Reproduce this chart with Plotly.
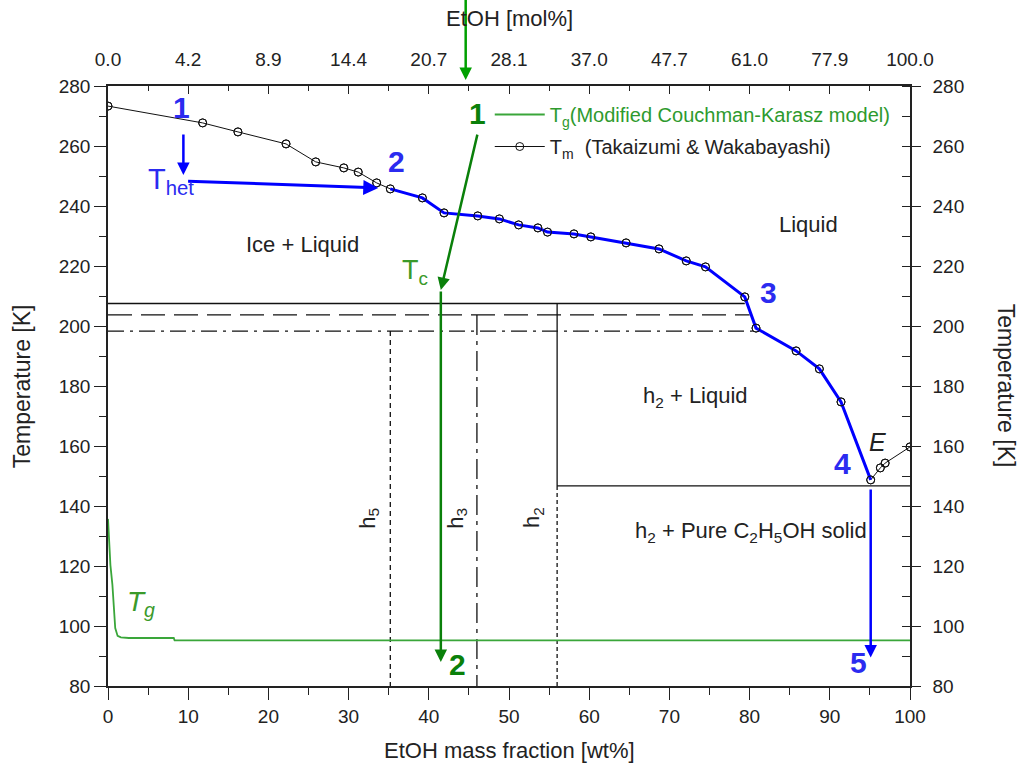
import plotly.graph_objects as go

# ---------------- data ----------------
# Tm liquidus (Takaizumi & Wakabayashi)
tm_x = [0, 11.8, 16.2, 22.2, 25.9, 29.4, 31.2, 33.5, 35.2, 39.2, 41.9, 46.1, 48.8, 51.2,
        53.6, 54.8, 58.1, 60.2, 64.6, 68.7, 72.1, 74.5, 79.4, 80.8, 85.8, 88.7, 91.4,
        95.1, 96.3, 96.9, 100]
tm_T = [273.3, 267.7, 264.7, 260.7, 254.7, 252.7, 251.3, 247.7, 245.7, 242.7, 237.7,
        236.7, 235.7, 233.7, 232.7, 231.3, 230.7, 229.7, 227.7, 225.7, 221.7, 219.7,
        209.7, 199.3, 191.7, 185.7, 174.7, 148.7, 152.7, 154.3, 159.7]

# Tg (Modified Couchman-Karasz model)
tg_x = [0, 0.1, 0.3, 0.55, 0.75, 0.9, 1.2, 1.6, 2.6, 8.2, 8.3, 100]
tg_T = [135.7, 128.7, 120.3, 113.7, 106.3, 99.3, 96.7, 96.2, 96.0, 96.0, 95.2, 95.2]

# top axis (mol%) tick labels at wt% positions
wt_ticks = [0, 10, 20, 30, 40, 50, 60, 70, 80, 90, 100]
mol_labels = ["0.0", "4.2", "8.9", "14.4", "20.7", "28.1", "37.0", "47.7", "61.0", "77.9", "100.0"]

# hydrate levels / boundaries
h_solid_x, h_solid_T = [0, 79.4], [207.5, 207.5]
h_dash_x, h_dash_T = [0, 80.0], [203.7, 203.7]
h_dashdot_x, h_dashdot_T = [0, 80.4], [198.3, 198.3]
eut_x, eut_T = [56.0, 100], [146.7, 146.7]
h5_x, h5_T = [35.2, 35.2], [198.3, 80]
h3_x, h3_T = [46.0, 46.0], [203.7, 80]
h2_solid_x, h2_solid_T = [56.0, 56.0], [207.5, 146.7]
h2_dot_x, h2_dot_T = [56.0, 56.0], [146.7, 80]

# blue path (slow cooling) follows liquidus from point 2 to point 4
blue_start, blue_end = 8, 28

# arrows: (x_tail, T_tail, x_head, T_head)
arr_blue_drop = [9.4, 264.3, 9.4, 250.3]
arr_blue_het = [9.8, 248.3, 33.7, 246.0]
arr_blue_down = [95.1, 146.0, 95.1, 89.5]
arr_green_diag = [46.1, 264.3, 41.5, 212.0]
arr_green_down = [41.5, 212.0, 41.5, 88.0]
arr_green_top_x = 44.6

BLUE = "#0000ff"
LBLUE = "#2b2bf0"
GREEN_D = "#0a800a"
GREEN_L = "#3aa63a"
FONT = "Liberation Sans, Arial, sans-serif"

fig = go.Figure()

def line(x, y, dash="solid", width=1.3, color="#111"):
    fig.add_trace(go.Scatter(x=x, y=y, mode="lines", showlegend=False, hoverinfo="skip",
                             line=dict(color=color, width=width, dash=dash)))

line(h_solid_x, h_solid_T)
line(h_dash_x, h_dash_T, dash="24px,9px")
line(h_dashdot_x, h_dashdot_T, dash="16px,6px,3px,6px")
line(eut_x, eut_T)
line(h5_x, h5_T, dash="5px,4px")
line(h3_x, h3_T, dash="20px,6px,4px,6px")
line(h2_solid_x, h2_solid_T)
line(h2_dot_x, h2_dot_T, dash="4px,3px")

# Tg
fig.add_trace(go.Scatter(x=tg_x, y=tg_T, mode="lines", legendgroup="g1",
                         name="<span style='color:#2e9a2e'>T<sub>g</sub>(Modified Couchman-Karasz model)</span>",
                         line=dict(color=GREEN_L, width=1.8)))
# Tm
fig.add_trace(go.Scatter(x=tm_x, y=tm_T, mode="lines+markers", legendgroup="g2",
                         name="T<sub>m</sub>  (Takaizumi & Wakabayashi)",
                         line=dict(color="#111", width=1),
                         marker=dict(symbol="circle-open", size=8, color="#111", line=dict(width=1))))
# blue path
fig.add_trace(go.Scatter(x=tm_x[blue_start:blue_end], y=tm_T[blue_start:blue_end], mode="lines",
                         showlegend=False, hoverinfo="skip",
                         line=dict(color=BLUE, width=3)))
# markers on top
fig.add_trace(go.Scatter(x=tm_x, y=tm_T, mode="markers", showlegend=False, hoverinfo="skip",
                         marker=dict(symbol="circle-open", size=8, color="#111", line=dict(width=1))))

anns = []
def arrow(a, color, width):
    anns.append(dict(x=a[2], y=a[3], ax=a[0], ay=a[1], xref="x", yref="y", axref="x", ayref="y",
                     showarrow=True, arrowhead=2, arrowsize=1, arrowwidth=width,
                     arrowcolor=color, text=""))

arrow(arr_blue_drop, BLUE, 2.5)
arrow(arr_blue_het, BLUE, 3)
arrow(arr_blue_down, BLUE, 2.5)
arrow(arr_green_diag, GREEN_D, 2.5)
arrow(arr_green_down, GREEN_D, 2.5)
anns.append(dict(x=arr_green_top_x, y=1.01, ax=arr_green_top_x, ay=1.16, xref="x", yref="y domain",
                 axref="x", ayref="y domain", showarrow=True, arrowhead=2, arrowsize=1,
                 arrowwidth=2.5, arrowcolor="#00a000", text=""))

def txt(x, y, s, size=22, color="#222", bold=False, italic=False, angle=0, font=FONT, **kw):
    if bold:
        s = "<b>" + s + "</b>"
    if italic:
        s = "<i>" + s + "</i>"
    d = dict(x=x, y=y, xref="x", yref="y", text=s, showarrow=False, textangle=angle,
             xanchor="center", yanchor="middle",
             font=dict(size=size, color=color, family=font))
    d.update(kw)
    anns.append(d)

NUM = 30
txt(9.2, 272.7, "1", NUM, LBLUE, bold=True)
txt(36.0, 254.7, "2", NUM, LBLUE, bold=True)
txt(82.3, 211.2, "3", NUM, LBLUE, bold=True)
txt(91.6, 154.2, "4", NUM, LBLUE, bold=True)
txt(93.6, 87.8, "5", NUM, LBLUE, bold=True)
txt(46.1, 271.0, "1", NUM, GREEN_D, bold=True)
txt(43.6, 87.3, "2", NUM, GREEN_D, bold=True)
txt(7.8, 248.3, "T<sub>het</sub>", 29, LBLUE)
txt(38.3, 218.0, "T<sub>c</sub>", 27, "#3a9a2a")
txt(4.1, 107.5, "T<sub>g</sub>", 28, "#3a9a2a", italic=True)
txt(95.9, 161.2, "E", 25, "#222", italic=True)
txt(24.3, 227.3, "Ice + Liquid", 22)
txt(87.4, 234.0, "Liquid", 22)
txt(73.3, 176.3, "h<sub>2</sub> + Liquid", 22)
txt(80.2, 131.5, "h<sub>2</sub> + Pure C<sub>2</sub>H<sub>5</sub>OH solid", 22)
txt(32.5, 136.0, "h<sub>5</sub>", 22, angle=-90)
txt(43.5, 136.0, "h<sub>3</sub>", 22, angle=-90)
txt(53.0, 136.0, "h<sub>2</sub>", 22, angle=-90)

# axis titles
def ptxt(x, y, s, size=22, angle=0):
    anns.append(dict(x=x, y=y, xref="paper", yref="paper", text=s, showarrow=False,
                     xanchor="center", yanchor="middle",
                     textangle=angle, font=dict(size=size, color="#222", family=FONT)))

ptxt(0.5, -0.107, "EtOH mass fraction [wt%]", 22)
ptxt(0.5, 1.113, "EtOH [mol%]", 22)
ptxt(-0.107, 0.5, "Temperature [K]", 23, angle=-90)
ptxt(1.12, 0.5, "Temperature [K]", 23, angle=90)

tickfont = dict(size=19, color="#222", family=FONT)
fig.update_layout(
    width=1019, height=770,
    margin=dict(l=108, r=109, t=86, b=84),
    plot_bgcolor="white", paper_bgcolor="white",
    annotations=anns,
    legend=dict(x=0.476, y=0.985, xanchor="left", yanchor="top", bgcolor="rgba(0,0,0,0)",
                traceorder="grouped", tracegroupgap=3, itemwidth=50,
                font=dict(size=20, color="#222", family=FONT)),
    xaxis=dict(range=[0, 100], tickvals=wt_ticks, ticks="outside", ticklen=12, tickwidth=1.3,
               tickcolor="#222", showline=True, linecolor="#222", linewidth=1.5, showgrid=False,
               zeroline=False, tickfont=tickfont,
               minor=dict(dtick=5, ticks="outside", ticklen=7, tickcolor="#222")),
    xaxis2=dict(range=[0, 100], overlaying="x", side="top", tickvals=wt_ticks, ticktext=mol_labels,
                ticks="inside", ticklen=8, tickwidth=1.3, tickcolor="#222", showline=True,
                linecolor="#222", linewidth=1.5, showgrid=False, zeroline=False, tickfont=tickfont,
                ticklabelstandoff=11,
                minor=dict(dtick=5, tick0=0, ticks="inside", ticklen=5, tickcolor="#222")),
    yaxis=dict(range=[80, 280], dtick=20, ticks="outside", ticklen=12, tickwidth=1.3, tickcolor="#222",
               showline=True, linecolor="#222", linewidth=1.5, showgrid=False, zeroline=False,
               tickfont=tickfont,
               minor=dict(dtick=10, ticks="outside", ticklen=7, tickcolor="#222")),
    yaxis2=dict(range=[80, 280], dtick=20, overlaying="y", side="right", ticks="outside", ticklen=9,
                tickwidth=1.3, tickcolor="#222", showline=True, linecolor="#222", linewidth=1.5,
                showgrid=False, zeroline=False, tickfont=tickfont, ticklabelstandoff=8,
                minor=dict(dtick=10, ticks="inside", ticklen=8, tickcolor="#222")),
)
# attach an empty trace so the secondary axes are drawn
fig.add_trace(go.Scatter(x=[], y=[], xaxis="x2", yaxis="y2", showlegend=False))

fig.write_html("out.html")
